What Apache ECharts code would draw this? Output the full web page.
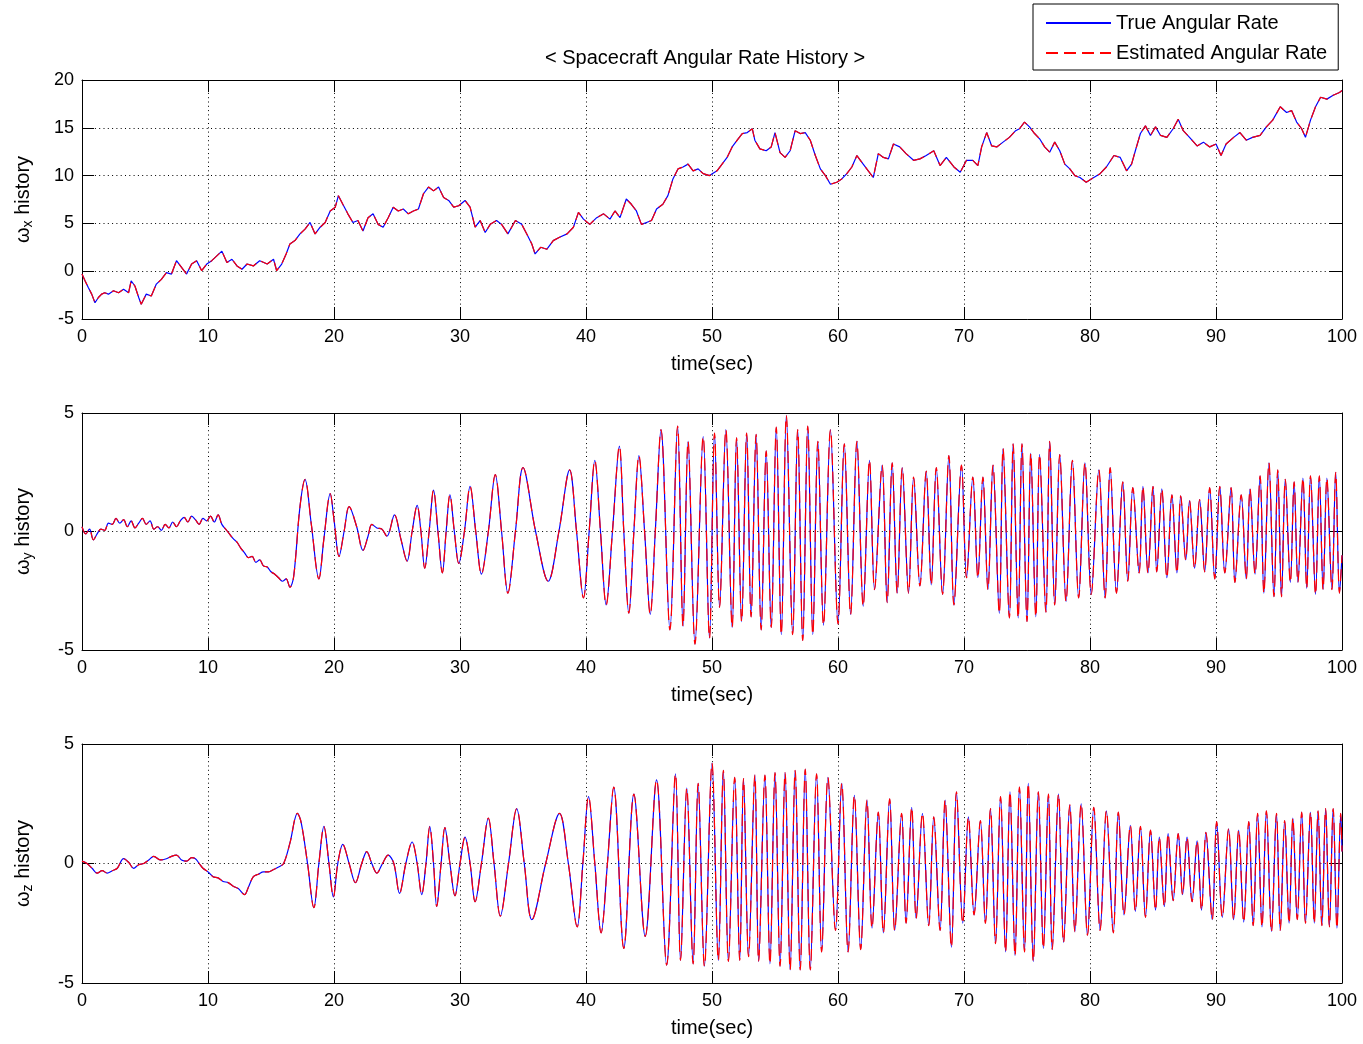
<!DOCTYPE html>
<html><head><meta charset="utf-8">
<script src="https://cdn.jsdelivr.net/npm/echarts/dist/echarts.min.js"></script>
<style>html,body{margin:0;padding:0;background:#fff}#c{width:1363px;height:1044px}</style>
</head><body><div id="c"></div>
<script>
// ---- data: [time (s), angular rate] ----
// True and estimated traces coincide at this resolution, so each panel's readings serve both series.
const omegaX = [[0,-0.3],[0.24,-1.0],[0.5,-1.7],[0.77,-2.4],[1.03,-3.3],[1.3,-2.75],[1.56,-2.4],[1.8,-2.25],[2.1,-2.4],[2.5,-2.05],[2.9,-2.25],[3.3,-1.9],[3.7,-2.25],[3.9,-1.0],[4.2,-1.55],[4.5,-2.75],[4.7,-3.45],[5.1,-2.4],[5.5,-2.6],[5.9,-1.35],[6.3,-0.85],[6.7,-0.15],[7.1,-0.3],[7.5,1.1],[7.9,0.4],[8.3,-0.3],[8.7,0.75],[9.1,1.1],[9.5,0.05],[9.9,0.75],[10.3,1.1],[10.7,1.6],[11.1,2.1],[11.5,0.9],[11.9,1.25],[12.3,0.55],[12.7,0.2],[13.1,0.75],[13.6,0.55],[14.1,1.1],[14.7,0.75],[15.2,1.25],[15.45,0.05],[15.85,0.75],[16.2,1.8],[16.5,2.85],[16.9,3.2],[17.3,3.9],[17.7,4.4],[18.1,5.1],[18.5,3.9],[18.9,4.6],[19.3,5.1],[19.7,6.3],[20.1,6.7],[20.35,7.9],[20.7,7.0],[21.1,6.0],[21.5,5.1],[21.9,5.3],[22.3,4.2],[22.7,5.6],[23.1,6.0],[23.5,4.9],[23.9,4.6],[24.3,5.6],[24.7,6.7],[25.1,6.3],[25.5,6.5],[25.9,6.0],[26.3,6.3],[26.7,6.5],[27.1,8.1],[27.5,8.8],[27.9,8.4],[28.3,8.8],[28.7,7.7],[29.1,7.4],[29.5,6.7],[29.9,6.85],[30.4,7.4],[30.8,6.7],[31.2,4.6],[31.6,5.3],[32.0,4.05],[32.4,4.9],[32.9,5.3],[33.3,4.9],[33.8,3.9],[34.4,5.3],[34.9,4.9],[35.3,3.9],[35.7,2.85],[35.96,1.8],[36.4,2.5],[36.9,2.3],[37.4,3.2],[37.9,3.55],[38.5,3.9],[39.0,4.6],[39.4,6.15],[39.8,5.45],[40.3,4.9],[40.85,5.6],[41.4,6.0],[41.9,5.45],[42.3,6.3],[42.7,5.6],[43.2,7.55],[43.6,7.0],[44.0,6.3],[44.4,4.9],[44.8,5.1],[45.2,5.3],[45.6,6.5],[46.1,7.0],[46.5,7.9],[46.9,9.65],[47.3,10.7],[47.7,10.9],[48.1,11.2],[48.5,10.5],[48.9,10.7],[49.3,10.2],[49.8,10.0],[50.4,10.5],[50.8,11.2],[51.2,11.9],[51.6,13.0],[52.0,13.7],[52.4,14.4],[52.8,14.5],[53.2,14.9],[53.4,13.7],[53.8,12.8],[54.3,12.6],[54.7,13.0],[55.0,14.5],[55.4,12.4],[55.8,11.9],[56.2,12.6],[56.6,14.7],[57.0,14.4],[57.4,14.5],[57.8,13.7],[58.2,12.1],[58.6,10.7],[59.0,10.0],[59.4,9.1],[59.9,9.3],[60.3,9.65],[60.7,10.2],[61.1,10.9],[61.5,12.1],[62.0,11.2],[62.4,10.5],[62.8,9.8],[63.2,12.3],[63.6,11.9],[64.0,11.75],[64.4,13.3],[64.9,13.0],[65.4,12.3],[66.0,11.6],[66.5,11.75],[67.0,12.1],[67.6,12.6],[68.1,11.05],[68.6,11.9],[69.2,10.9],[69.7,10.35],[70.2,11.6],[70.7,11.6],[71.1,11.05],[71.4,13.0],[71.8,14.5],[72.2,13.1],[72.6,13.0],[73.1,13.5],[73.6,14.0],[74.1,14.7],[74.4,14.9],[74.8,15.6],[75.2,15.1],[75.6,14.4],[76.0,13.85],[76.4,13.0],[76.8,12.45],[77.2,13.5],[77.6,12.6],[78.0,11.2],[78.4,10.7],[78.8,10.0],[79.2,9.8],[79.7,9.3],[80.3,9.8],[80.8,10.2],[81.3,10.9],[81.9,12.1],[82.4,11.9],[82.9,10.5],[83.3,11.2],[83.6,12.6],[84.0,14.4],[84.4,15.2],[84.8,14.2],[85.2,15.1],[85.6,14.2],[86.1,14.0],[86.6,14.9],[87.0,15.9],[87.4,14.7],[87.9,14.0],[88.5,13.1],[89.0,13.5],[89.5,13.0],[90.0,13.3],[90.4,12.1],[90.8,13.3],[91.4,14.0],[91.9,14.5],[92.4,13.7],[92.9,14.0],[93.5,14.2],[94.0,15.1],[94.5,15.8],[95.1,17.2],[95.6,16.6],[96.0,16.8],[96.4,15.6],[96.8,14.9],[97.1,14.0],[97.5,15.8],[97.9,17.2],[98.3,18.2],[98.8,18.0],[99.3,18.4],[99.8,18.7],[100,18.9]];

const omegaY = [[0,0.2],[0.3,-0.1],[0.6,0.1],[0.9,-0.35],[1.2,-0.1],[1.5,0.1],[1.8,0.05],[2.1,0.35],[2.4,0.3],[2.7,0.55],[3.0,0.35],[3.3,0.5],[3.6,0.2],[3.9,0.45],[4.2,0.15],[4.5,0.35],[4.8,0.55],[5.1,0.3],[5.4,0.45],[5.7,0.1],[6.0,0.2],[6.3,0.05],[6.6,0.3],[6.9,0.15],[7.2,0.4],[7.5,0.2],[7.8,0.45],[8.1,0.6],[8.4,0.4],[8.7,0.65],[9.0,0.5],[9.3,0.3],[9.6,0.55],[9.9,0.45],[10.2,0.65],[10.5,0.4],[10.8,0.7],[11.1,0.3],[11.4,0.1],[11.7,-0.1],[12.0,-0.3],[12.3,-0.45],[12.6,-0.7],[12.9,-0.9],[13.2,-1.1],[13.5,-1.05],[13.8,-1.3],[14.1,-1.2],[14.4,-1.45],[14.7,-1.5],[15.0,-1.7],[15.3,-1.8],[15.6,-1.95],[15.9,-2.1],[16.2,-2.0],[16.5,-2.35],[16.8,-1.9],[17.3,1.05],[17.7,2.2],[18.2,0.3],[18.8,-2.0],[19.2,-0.3],[19.7,1.6],[20.0,0.5],[20.4,-1.05],[20.8,0],[21.2,1.05],[21.8,0.2],[22.3,-0.8],[22.7,-0.2],[23.0,0.3],[23.4,0.15],[23.8,0.1],[24.2,-0.2],[24.8,0.7],[25.3,-0.3],[25.8,-1.25],[26.2,0],[26.6,1.1],[26.9,0],[27.2,-1.55],[27.55,0],[27.9,1.75],[28.25,0],[28.6,-1.75],[28.9,0],[29.2,1.55],[29.55,0],[29.9,-1.35],[30.35,0],[30.8,1.9],[31.25,0],[31.7,-1.8],[32.25,0],[32.8,2.4],[33.3,0],[33.8,-2.6],[34.4,0],[35.0,2.7],[36.0,0],[37.0,-2.1],[37.85,0],[38.7,2.6],[39.25,0],[39.8,-2.8],[40.25,0],[40.7,3.0],[41.15,0],[41.6,-3.1],[42.1,0],[42.65,3.6],[43.0,0],[43.4,-3.45],[43.8,0],[44.2,3.2],[44.65,0],[45.1,-3.5],[45.5,0],[45.95,4.3],[46.66,-4.15],[47.27,4.45],[47.7,-4.0],[48.1,3.8],[48.65,-4.75],[49.3,4.0],[49.8,-4.5],[50.2,4.15],[50.6,-3.2],[51.1,4.3],[51.6,-4.05],[51.95,3.95],[52.35,-3.8],[52.75,4.15],[53.1,-3.6],[53.5,4.1],[53.9,-4.15],[54.3,3.4],[54.7,-4.05],[55.1,4.4],[55.5,-4.35],[55.9,4.9],[56.4,-4.35],[56.8,4.3],[57.2,-4.6],[57.6,4.45],[58.0,-4.35],[58.4,3.8],[58.85,-3.95],[59.4,4.3],[60.0,-3.9],[60.5,3.7],[61.0,-3.5],[61.5,3.8],[62.0,-3.15],[62.5,3.0],[62.9,-2.45],[63.5,2.8],[63.9,-3.0],[64.3,2.9],[64.7,-2.6],[65.1,2.7],[65.6,-2.6],[66.0,2.3],[66.5,-2.3],[67.0,2.55],[67.4,-2.25],[67.8,2.7],[68.3,-2.65],[68.8,3.2],[69.2,-3.1],[69.8,2.8],[70.2,-1.95],[70.7,2.3],[71.1,-1.95],[71.5,2.3],[71.9,-2.45],[72.3,2.8],[72.8,-3.45],[73.1,3.5],[73.6,-3.65],[73.9,3.7],[74.3,-3.65],[74.6,3.7],[75.0,-3.8],[75.3,3.3],[75.7,-3.6],[76.0,3.25],[76.5,-3.4],[76.8,3.8],[77.2,-3.1],[77.6,3.25],[78.1,-2.95],[78.6,3.0],[79.1,-2.8],[79.6,2.9],[80.1,-2.65],[80.7,2.6],[81.2,-2.8],[81.6,2.7],[82.1,-2.6],[82.6,2.1],[83.0,-2.1],[83.4,1.85],[83.9,-1.75],[84.2,1.9],[84.6,-1.75],[85.0,1.9],[85.3,-1.7],[85.7,1.8],[86.1,-1.95],[86.5,1.55],[86.9,-1.75],[87.2,1.5],[87.6,-1.2],[87.9,1.3],[88.3,-1.55],[88.7,1.35],[89.1,-1.7],[89.5,1.85],[89.9,-2.0],[90.3,1.9],[90.7,-1.75],[91.2,1.85],[91.5,-2.15],[92.0,1.55],[92.4,-2.0],[92.7,1.8],[93.1,-1.8],[93.5,2.35],[93.8,-2.6],[94.2,2.9],[94.6,-2.75],[94.9,2.6],[95.2,-2.75],[95.5,2.2],[95.9,-2.15],[96.2,2.1],[96.5,-2.15],[96.9,2.25],[97.2,-2.4],[97.5,2.35],[97.9,-2.65],[98.2,2.35],[98.5,-2.45],[98.8,2.25],[99.2,-2.45],[99.5,2.5],[99.8,-2.6],[100,-1.0]];

const omegaZ = [[0,0.1],[0.4,0.0],[0.8,-0.2],[1.2,-0.4],[1.6,-0.3],[2.0,-0.4],[2.4,-0.3],[2.8,-0.2],[3.3,0.2],[3.7,0.05],[4.1,-0.2],[4.5,-0.05],[4.9,0.0],[5.3,0.15],[5.7,0.3],[6.2,0.15],[6.7,0.2],[7.1,0.3],[7.5,0.35],[7.9,0.15],[8.3,0.1],[8.7,0.25],[9.0,0.2],[9.3,0.0],[9.6,-0.2],[10.0,-0.35],[10.4,-0.55],[10.8,-0.6],[11.2,-0.75],[11.6,-0.8],[12.0,-0.95],[12.4,-1.05],[12.9,-1.3],[13.2,-1.0],[13.6,-0.55],[14.0,-0.45],[14.4,-0.35],[14.8,-0.35],[15.2,-0.25],[15.6,-0.15],[16.0,0.0],[16.5,0.85],[17.1,2.1],[17.4,1.7],[17.9,0],[18.4,-1.85],[18.8,0],[19.2,1.55],[19.6,0],[19.95,-1.4],[20.3,0],[20.7,0.8],[21.2,0],[21.7,-0.8],[22.2,0],[22.6,0.5],[23.0,0],[23.4,-0.4],[23.85,0],[24.3,0.35],[24.75,0],[25.2,-1.25],[25.7,0],[26.2,0.9],[26.6,0],[26.96,-1.3],[27.3,0],[27.6,1.55],[27.9,0],[28.15,-1.8],[28.5,0],[28.8,1.5],[29.2,0],[29.6,-1.35],[30.0,0],[30.4,1.1],[30.8,0],[31.2,-1.6],[31.7,0],[32.25,1.9],[32.7,0],[33.2,-2.2],[33.85,0],[34.5,2.3],[35.1,0],[35.7,-2.35],[36.8,0],[37.9,2.1],[38.6,0],[39.3,-2.65],[39.75,0],[40.2,2.8],[40.7,0],[41.2,-2.9],[41.7,0],[42.2,3.2],[43.0,-3.55],[43.8,2.9],[44.7,-3.05],[45.6,3.5],[46.4,-4.25],[47.1,3.75],[47.5,-4.05],[48.0,3.15],[48.5,-4.2],[48.9,3.35],[49.4,-4.3],[50.0,4.2],[50.5,-4.05],[50.9,3.9],[51.3,-4.1],[51.8,3.6],[52.2,-4.05],[52.5,3.55],[52.9,-3.9],[53.4,3.7],[53.7,-4.1],[54.2,3.7],[54.6,-4.2],[55.0,3.8],[55.4,-4.3],[55.8,3.8],[56.2,-4.45],[56.6,3.9],[57.0,-4.45],[57.4,3.95],[57.8,-4.45],[58.3,3.75],[58.7,-3.7],[59.2,3.6],[59.8,-2.8],[60.3,3.35],[60.8,-3.7],[61.3,2.85],[61.8,-3.6],[62.3,2.65],[62.7,-2.7],[63.2,2.15],[63.6,-2.9],[64.1,2.7],[64.5,-2.8],[65.05,2.1],[65.4,-2.5],[65.85,2.35],[66.2,-2.3],[66.7,2.1],[67.2,-2.6],[67.6,1.95],[68.1,-2.8],[68.5,2.65],[69.0,-3.5],[69.4,3.0],[69.9,-2.5],[70.35,1.95],[70.8,-2.15],[71.3,1.8],[71.7,-2.5],[72.1,2.3],[72.5,-3.35],[72.9,2.8],[73.3,-3.7],[73.65,3.0],[74.05,-3.85],[74.4,3.2],[74.8,-3.7],[75.1,3.35],[75.5,-4.1],[75.9,3.0],[76.3,-3.55],[76.7,2.9],[77.0,-3.6],[77.5,2.9],[77.9,-3.3],[78.4,2.45],[78.8,-2.85],[79.3,2.5],[79.8,-3.0],[80.3,2.35],[80.8,-2.8],[81.3,2.2],[81.85,-2.9],[82.25,2.15],[82.7,-2.15],[83.2,1.6],[83.6,-2.0],[84.0,1.55],[84.4,-2.25],[84.8,1.4],[85.2,-1.95],[85.5,1.1],[85.9,-1.8],[86.2,1.25],[86.6,-1.55],[87.0,1.25],[87.35,-1.3],[87.7,1.1],[88.1,-1.6],[88.5,0.95],[88.85,-1.95],[89.2,1.3],[89.7,-2.35],[90.05,1.75],[90.5,-2.25],[91.0,1.45],[91.4,-2.35],[91.8,1.4],[92.2,-2.45],[92.6,1.75],[92.95,-2.6],[93.3,2.1],[93.65,-2.65],[94.0,2.2],[94.4,-2.85],[94.8,2.1],[95.1,-2.8],[95.45,1.8],[95.8,-2.5],[96.1,1.9],[96.45,-2.35],[96.8,2.15],[97.1,-2.5],[97.5,2.15],[97.8,-2.5],[98.1,2.2],[98.4,-2.6],[98.7,2.3],[99.0,-2.65],[99.3,2.3],[99.6,-2.7],[99.9,2.1],[100,0.5]];

const seriesNames = ['True Angular Rate', 'Estimated Angular Rate'];
const axisSubscripts = ['x', 'y', 'z'];
const xAxisTitle = 'time(sec)';
const chartTitle = '< Spacecraft Angular Rate History >';
const yRanges = [[-5, 20, 5], [-5, 5, 5], [-5, 5, 5]];   // min, max, tick step
const xRange = [0, 100, 10];

// ---- layout / style ----
const FONT = '"Liberation Sans", Arial, Helvetica, sans-serif';
const panelData = [omegaX, omegaY, omegaZ];
const panelLayout = [{ top: 80, height: 239, smooth: false }, { top: 413, height: 237, smooth: 0.35 }, { top: 744, height: 239, smooth: 0.35 }];
const BLACK = '#000';
const boxLine = { show: true, onZero: false, lineStyle: { color: BLACK, width: 1 } };
const tick = { show: true, inside: true, length: 12, lineStyle: { color: BLACK, width: 1 } };
const grid = { show: true, lineStyle: { color: BLACK, width: 1, type: [1, 3.3] } };

const grids = [], xAxes = [], yAxes = [], series = [];
panelLayout.forEach((p, i) => {
  grids.push({ left: 82, right: 21, top: p.top, height: p.height, outerBoundsMode: 'none' });
  xAxes[i] = {
    type: 'value', gridIndex: i, min: xRange[0], max: xRange[1], interval: xRange[2],
    name: xAxisTitle, nameLocation: 'middle', nameGap: 35, nameMoveOverlap: false,
    nameTextStyle: { color: BLACK, fontSize: 20, fontFamily: FONT },
    axisLine: boxLine, axisTick: tick,
    axisLabel: { color: BLACK, fontSize: 18, margin: 9, fontFamily: FONT },
    splitLine: grid
  };
  xAxes[i + 3] = {
    type: 'value', gridIndex: i, position: 'top', min: xRange[0], max: xRange[1], interval: xRange[2],
    axisLine: boxLine, axisTick: tick, axisLabel: { show: false }, splitLine: { show: false }
  };
  const [ymin, ymax, ystep] = yRanges[i];
  yAxes[i] = {
    type: 'value', gridIndex: i, min: ymin, max: ymax, interval: ystep,
    name: '{w|ω}{s|' + axisSubscripts[i] + '}{h| history}', nameLocation: 'middle', nameRotate: 90, nameGap: 47, nameMoveOverlap: false,
    nameTextStyle: {
      color: BLACK, fontSize: 20, fontFamily: FONT,
      rich: {
        w: { color: BLACK, fontSize: 20, fontFamily: FONT },
        s: { color: BLACK, fontSize: 14, fontFamily: FONT, padding: [9, 0, 0, 0] },
        h: { color: BLACK, fontSize: 20, fontFamily: FONT }
      }
    },
    axisLine: boxLine, axisTick: tick,
    axisLabel: { color: BLACK, fontSize: 18, margin: 8, fontFamily: FONT },
    splitLine: grid
  };
  yAxes[i + 3] = {
    type: 'value', gridIndex: i, position: 'right', min: ymin, max: ymax, interval: ystep,
    axisLine: boxLine, axisTick: tick, axisLabel: { show: false }, splitLine: { show: false }
  };
  series.push({
    name: seriesNames[0], type: 'line', xAxisIndex: i, yAxisIndex: i, data: panelData[i],
    symbol: 'none', showSymbol: false, smooth: p.smooth, silent: true, z: 2,
    lineStyle: { color: '#0000ff', width: 1.2 }, itemStyle: { color: '#0000ff' }
  });
  series.push({
    name: seriesNames[1], type: 'line', xAxisIndex: i, yAxisIndex: i, data: panelData[i],
    symbol: 'none', showSymbol: false, smooth: p.smooth, silent: true, z: 3,
    lineStyle: { color: '#ff0000', width: 1.2, type: [12, 6] }, itemStyle: { color: '#ff0000' }
  });
});

const chart = echarts.init(document.getElementById('c'), null, { renderer: 'canvas' });
chart.setOption({
  animation: false,
  backgroundColor: '#fff',
  title: { text: chartTitle, left: 545, top: 48, padding: 0,
    textStyle: { color: BLACK, fontSize: 20, fontWeight: 'normal', fontFamily: FONT } },
  legend: {
    data: seriesNames, orient: 'vertical', left: 1033, top: 4,
    itemWidth: 65, itemHeight: 20, itemGap: 10, padding: [9, 11, 7, 12],
    borderColor: BLACK, borderWidth: 1, backgroundColor: '#fff', borderRadius: 0,
    itemStyle: { opacity: 0 },
    textStyle: { color: BLACK, fontSize: 20, fontFamily: FONT },
    selectedMode: false
  },
  grid: grids, xAxis: xAxes, yAxis: yAxes, series: series
});
</script>
</body></html>
